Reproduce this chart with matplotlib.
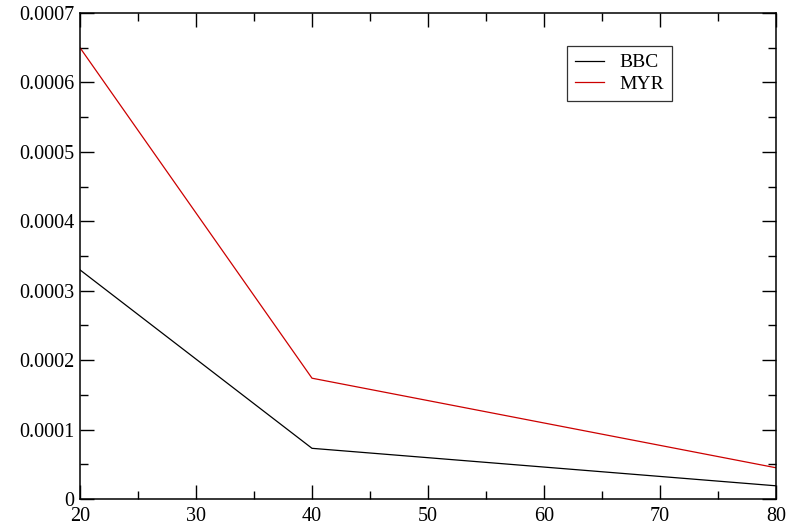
import numpy as np
import matplotlib
matplotlib.use('agg')
import matplotlib.pyplot as plt
from matplotlib.ticker import MultipleLocator, FuncFormatter

x = [20, 40, 80]
bbc = [0.00033, 0.000073, 0.000019]
myr = [0.00065, 0.000174, 0.000045]

plt.rcParams['font.family'] = ['Liberation Serif', 'DejaVu Serif']

fig = plt.figure(figsize=(8, 5.25), dpi=100)
ax = fig.add_axes([80/800, 1 - 499/525, 696/800, 486/525])

ax.plot(x, bbc, c='black', lw=0.9, label='BBC')
ax.plot(x, myr, c='#cc0000', lw=0.9, label='MYR')

ax.set_xlim(20, 80)
ax.set_ylim(0, 0.0007)
ax.xaxis.set_major_locator(MultipleLocator(10))
ax.xaxis.set_minor_locator(MultipleLocator(5))
ax.yaxis.set_major_locator(MultipleLocator(0.0001))
ax.yaxis.set_minor_locator(MultipleLocator(0.00005))
ax.yaxis.set_major_formatter(FuncFormatter(lambda v, p: '0' if abs(v) < 1e-12 else '%.4f' % v))

ax.tick_params(which='both', direction='in', top=True, right=True, labelsize=14.5, width=1)
ax.tick_params(which='major', length=10, pad=4)
ax.tick_params(axis='x', which='major', pad=6)
ax.tick_params(which='minor', length=6)
for s in ax.spines.values():
    s.set_linewidth(1.1)

leg = ax.legend(loc='upper left', bbox_to_anchor=(487/696, 1 - 33/486), fontsize=14,
                frameon=True, fancybox=False, edgecolor='black', handlelength=1.5,
                borderpad=0.4, labelspacing=0.2, handletextpad=0.8, borderaxespad=0)
leg.get_frame().set_linewidth(0.9)

plt.savefig('out.png', dpi=100)
